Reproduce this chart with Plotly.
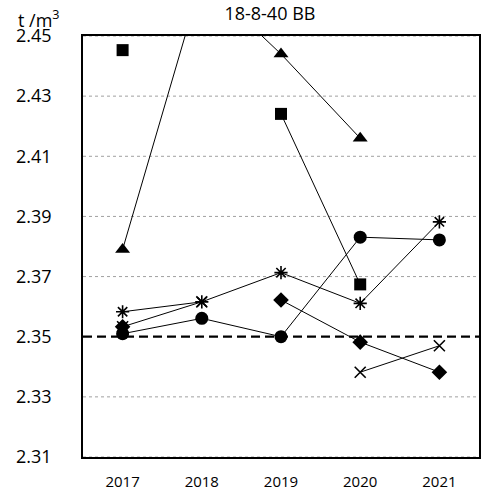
import plotly.graph_objects as go

years = ["2017", "2018", "2019", "2020", "2021"]

square_vals = [2.4453, None, 2.4241, 2.3674, None]
triangle_vals = [2.3790, 2.4690, 2.4440, 2.4160, None]
circle_vals = [2.3510, 2.3561, 2.3500, 2.3831, 2.3822]
asterisk_vals = [2.3583, 2.3616, 2.3713, 2.3611, 2.3882]
diamond_vals = [2.3533, None, 2.3622, 2.3482, 2.3382]
cross_vals = [2.3533, 2.3616, None, 2.3382, 2.3470]

limit_value = 2.35
y_ticks = [2.31, 2.33, 2.35, 2.37, 2.39, 2.41, 2.43, 2.45]
grid_ticks = [v for v in y_ticks if v != limit_value]

SERIES = [
    ("square", square_vals, dict(symbol="square", size=12, color="black")),
    ("triangle", triangle_vals, dict(symbol="triangle-up", size=13, color="black")),
    ("circle", circle_vals, dict(symbol="circle", size=13, color="black")),
    ("asterisk", asterisk_vals, dict(symbol="asterisk-open", size=11, line=dict(color="black", width=1.6))),
    ("diamond", diamond_vals, dict(symbol="diamond", size=12, color="black")),
    ("cross", cross_vals, dict(symbol="x-thin-open", size=11, line=dict(color="black", width=1.6))),
]

FONT = "Open Sans, Lato, sans-serif"

fig = go.Figure()

for name, vals, marker in SERIES:
    fig.add_trace(go.Scatter(
        x=years, y=vals, name=name, mode="lines+markers",
        line=dict(color="black", width=1), marker=marker, showlegend=False,
    ))

# dotted grid drawn as shapes so the 2.35 limit line is not overlaid by dots
for g in grid_ticks:
    fig.add_hline(y=g, line=dict(color="#a0a0a0", width=1, dash="dot"), layer="below")
fig.add_hline(y=limit_value, line=dict(color="black", width=2.2, dash="9px,5px"), layer="below")

fig.update_layout(
    width=482, height=494,
    margin=dict(l=83, r=3, t=36, b=37, autoexpand=False),
    paper_bgcolor="white", plot_bgcolor="white",
    font=dict(family=FONT, color="black"),
    title=dict(text="18-8-40 BB", x=0.472, xref="paper", xanchor="center",
               y=0.972, yanchor="middle", font=dict(size=18, family=FONT, color="black")),
    annotations=[dict(text="t /m<sup>3</sup>", xref="paper", yref="paper", x=-0.17, y=1.005,
                      xanchor="left", yanchor="bottom", showarrow=False,
                      font=dict(size=18, family=FONT, color="black"))],
)

fig.update_xaxes(
    type="category", range=[-0.5, 4.5], showgrid=False, showline=True, mirror=True,
    linecolor="black", linewidth=1.5, ticks="", tickfont=dict(size=15), ticklabelstandoff=10,
    automargin=False,
)
fig.update_yaxes(
    range=[2.31, 2.45], tickvals=y_ticks, ticktext=[f"{v:.2f}" for v in y_ticks],
    showgrid=False,
    showline=True, mirror=True, linecolor="black", linewidth=1.5, zeroline=False,
    ticks="", tickfont=dict(size=18), ticklabelstandoff=26, automargin=False,
)

# drop the default page margin so the figure sits at the window's corner
fig.write_html("out.html", config={"displayModeBar": False},
               post_script="document.body.style.margin='0';")
